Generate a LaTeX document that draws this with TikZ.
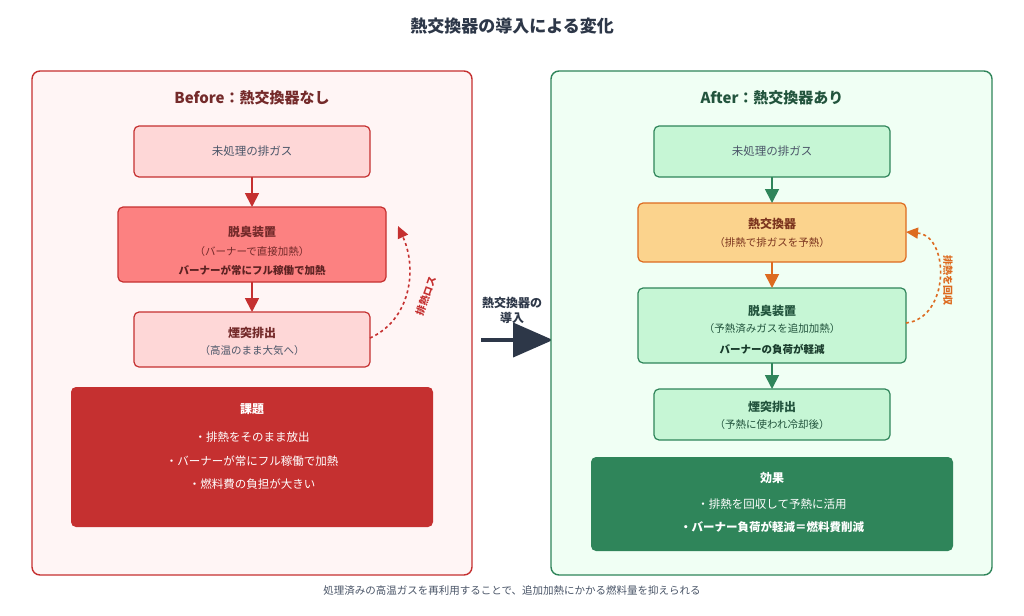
\documentclass[tikz,border=0pt]{standalone}
\usepackage{fontspec}
\setmainfont{Noto Sans CJK JP}
\usetikzlibrary{arrows.meta}
\definecolor{rd}{HTML}{C53030}
\definecolor{rdfill}{HTML}{FFF5F5}
\definecolor{rdlight}{HTML}{FED7D7}
\definecolor{rdmid}{HTML}{FC8181}
\definecolor{rdtxt}{HTML}{742A2A}
\definecolor{gr}{HTML}{2F855A}
\definecolor{grfill}{HTML}{F0FFF4}
\definecolor{grlight}{HTML}{C6F6D5}
\definecolor{grtxt}{HTML}{22543D}
\definecolor{org}{HTML}{DD6B20}
\definecolor{orgfill}{HTML}{FBD38D}
\definecolor{orgtxt}{HTML}{7B341E}
\definecolor{dk}{HTML}{2D3748}
\definecolor{gy}{HTML}{4A5568}
\tikzset{
 panel/.style={rounded corners=8pt,line width=1.4pt},
 bx/.style={rounded corners=5pt,line width=1.2pt},
 t/.style={font=\fontsize{11.5}{13}\selectfont},
 tb/.style={font=\fontsize{12}{14}\selectfont\bfseries},
 ts/.style={font=\fontsize{10.5}{12}\selectfont},
 flow/.style={line width=1.8pt,-{Triangle[length=14pt,width=14pt]}},
}
\begin{document}
\begin{tikzpicture}[x=1pt,y=-1pt]
\useasboundingbox[fill=white] (0,0) rectangle (1024,615);
\node[font=\fontsize{17}{19}\selectfont\bfseries,text=dk] (title) at (512,26) {熱交換器の導入による変化};
% left
\draw[panel,draw=rd,fill=rdfill] (32,71) rectangle (472,575);
\node[font=\fontsize{15}{17}\selectfont\bfseries,text=rdtxt] (lt) at (252,98) {Before：熱交換器なし};
\draw[bx,draw=rd,fill=rdlight] (134,126) rectangle (370,177);
\node[t,text=gy] (l1) at (252,151) {未処理の排ガス};
\coordinate (l1b) at (252,177);
\draw[bx,draw=rd,fill=rdmid] (118,207) rectangle (386,282);
\node[tb,text=rdtxt] (l2a) at (252,232) {脱臭装置};
\node[ts,text=rdtxt] (l2b) at (252,252) {（バーナーで直接加熱）};
\node[font=\fontsize{10.5}{12}\selectfont\bfseries,text=rdtxt!80!black] (l2c) at (252,270) {バーナーが常にフル稼働で加熱};
\coordinate (l2t) at (252,207); \coordinate (l2b2) at (252,282);
\draw[bx,draw=rd,fill=rdlight] (134,312) rectangle (370,367);
\node[tb,text=rdtxt] (l3a) at (252,333) {煙突排出};
\node[ts,text=gy] (l3b) at (252,351) {（高温のまま大気へ）};
\coordinate (l3t) at (252,312); \coordinate (l3r) at (370,338); \coordinate (l2r) at (398,226);
\draw[flow,rd] (l1b) -- (l2t);
\draw[flow,rd] (l2b2) -- (l3t);
\draw[rd,line width=1.6pt,dashed,-{Triangle[length=12pt,width=11pt]}] (l3r) .. controls (410,320) and (418,270) .. (l2r);
\node[font=\fontsize{10}{11}\selectfont\bfseries,text=rd,rotate=70,inner sep=0pt] (loss) at (426,296) {排熱ロス};
\draw[rounded corners=5pt,fill=rd,draw=none] (71,387) rectangle (433,527);
\node[tb,text=white] (k0) at (252,409) {課題};
\node[t,text=white] (k1) at (252,437) {・排熱をそのまま放出};
\node[t,text=white] (k2) at (252,461) {・バーナーが常にフル稼働で加熱};
\node[t,text=white] (k3) at (252,484) {・燃料費の負担が大きい};
% middle
\coordinate (ma) at (481,340); \coordinate (mb) at (553,340);
\draw[dk,line width=4pt,-{Triangle[length=40pt,width=34pt]}] (ma) -- (mb);
\node[font=\fontsize{12}{15}\selectfont\bfseries,text=dk,align=center] (ml) at (512,310) {熱交換器の\\導入};
% right
\draw[panel,draw=gr,fill=grfill] (551,71) rectangle (992,575);
\node[font=\fontsize{15}{17}\selectfont\bfseries,text=grtxt] (rt) at (772,98) {After：熱交換器あり};
\draw[bx,draw=gr,fill=grlight] (654,126) rectangle (890,177);
\node[t,text=gy] (r1) at (772,151) {未処理の排ガス};
\draw[bx,draw=org,fill=orgfill] (638,203) rectangle (906,262);
\node[tb,text=orgtxt] (r2a) at (772,224) {熱交換器};
\node[ts,text=orgtxt] (r2b) at (772,243) {（排熱で排ガスを予熱）};
\draw[bx,draw=gr,fill=grlight] (638,288) rectangle (906,363);
\node[tb,text=grtxt] (r3a) at (772,311) {脱臭装置};
\node[ts,text=grtxt] (r3b) at (772,329) {（予熱済みガスを追加加熱）};
\node[font=\fontsize{10.5}{12}\selectfont\bfseries,text=grtxt!70!black] (r3c) at (772,349) {バーナーの負荷が軽減};
\draw[bx,draw=gr,fill=grlight] (654,389) rectangle (890,440);
\node[tb,text=grtxt] (r4a) at (772,407) {煙突排出};
\node[ts,text=grtxt] (r4b) at (772,425) {（予熱に使われ冷却後）};
\coordinate (r1b) at (772,177); \coordinate (r2t) at (772,203);
\coordinate (r2bb) at (772,262); \coordinate (r3t) at (772,288);
\coordinate (r3bb) at (772,363); \coordinate (r4t) at (772,389);
\coordinate (r3r) at (906,323); \coordinate (r2r) at (906,232);
\draw[flow,gr] (r1b) -- (r2t);
\draw[flow,org] (r2bb) -- (r3t);
\draw[flow,gr] (r3bb) -- (r4t);
\draw[org,line width=1.6pt,dashed,-{Triangle[length=12pt,width=11pt]}] (r3r) .. controls (950,318) and (950,236) .. (r2r);
\node[font=\fontsize{10}{11}\selectfont\bfseries,text=org,rotate=-90] (rec) at (948,280) {排熱を回収};
\draw[rounded corners=5pt,fill=gr,draw=none] (591,457) rectangle (953,551);
\node[tb,text=white] (e0) at (772,478) {効果};
\node[t,text=white] (e1) at (772,504) {・排熱を回収して予熱に活用};
\node[font=\fontsize{11.5}{13}\selectfont\bfseries,text=white] (e2) at (772,527) {・バーナー負荷が軽減＝燃料費削減};
\node[ts,text=gy] (foot) at (512,591) {処理済みの高温ガスを再利用することで、追加加熱にかかる燃料量を抑えられる};
\end{tikzpicture}
\end{document}
